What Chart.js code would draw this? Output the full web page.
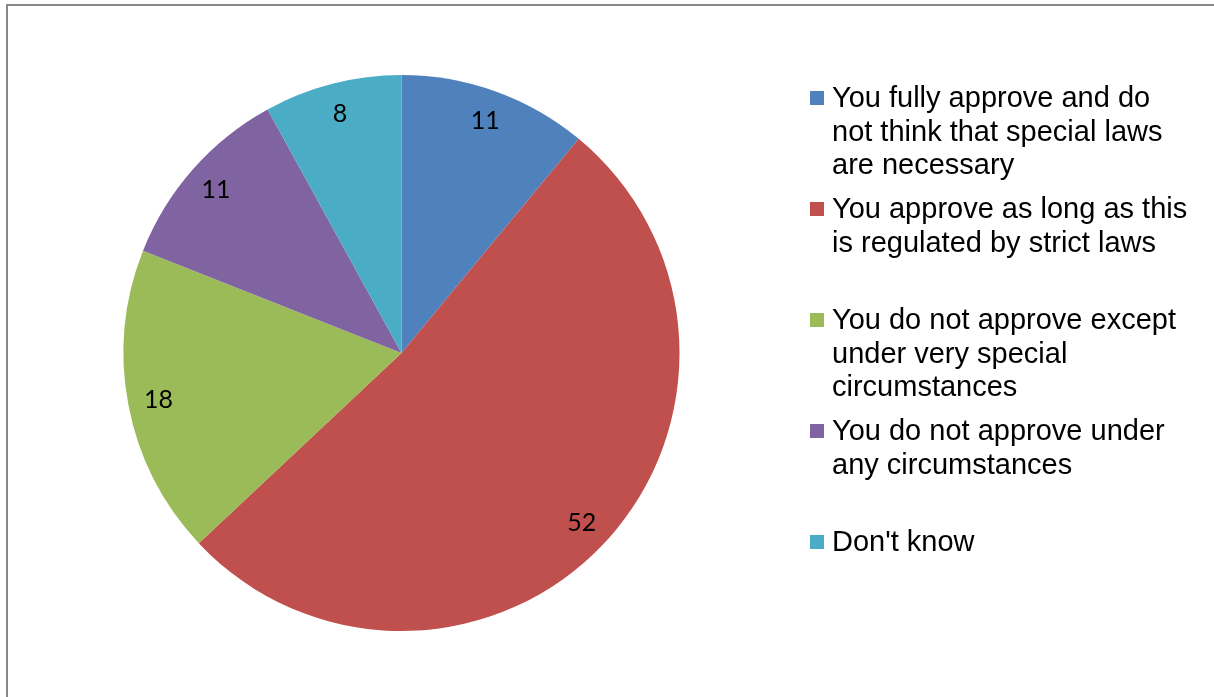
<!DOCTYPE html>
<html>
<head>
<meta charset="utf-8">
<script src="https://cdn.jsdelivr.net/npm/chart.js@4"></script>
<style>
  body { margin: 0; background: #fff; }
  canvas { display: block; }
</style>
</head>
<body>
<canvas id="myChart" width="1214" height="697"></canvas>
<script>
// answers, clockwise from 12 o'clock
const labels = [
  ["You fully approve and do", "not think that special laws", "are necessary"],
  ["You approve as long as this", "is regulated by strict laws"],
  ["You do not approve except", "under very special", "circumstances"],
  ["You do not approve under", "any circumstances"],
  ["Don't know"],
];
const values = [11, 52, 18, 11, 8];
const colors = ["#4F81BD", "#C0504D", "#9BBB59", "#8064A2", "#4BACC6"];

// frame round the chart (top and left edges only, like the screenshot)
const framePlugin = {
  id: "frame",
  beforeDraw(chart) {
    const c = chart.ctx;
    c.save();
    c.strokeStyle = "#878787";
    c.lineWidth = 2;
    c.beginPath();
    c.moveTo(7, chart.height);
    c.lineTo(7, 5);
    c.lineTo(chart.width, 5);
    c.stroke();
    c.restore();
  },
};

// numbers inside the slices
const sliceLabels = {
  id: "sliceLabels",
  afterDatasetsDraw(chart) {
    const c = chart.ctx;
    const meta = chart.getDatasetMeta(0);
    c.save();
    c.font = "25px Lato";
    c.fillStyle = "#000";
    c.textAlign = "center";
    c.textBaseline = "middle";
    meta.data.forEach((arc, i) => {
      const p = arc.getProps(["x", "y", "startAngle", "endAngle", "outerRadius"], true);
      const mid = (p.startAngle + p.endAngle) / 2;
      const r = p.outerRadius * 0.89;
      c.fillText(String(values[i]), p.x + Math.cos(mid) * r, p.y + Math.sin(mid) * r + 1);
    });
    c.restore();
  },
};

// legend on the right, with wrapped lines
const sideLegend = {
  id: "sideLegend",
  afterDraw(chart) {
    const c = chart.ctx;
    const items = chart.data.labels;
    const bg = chart.data.datasets[0].backgroundColor;
    c.save();
    c.font = "29px 'Liberation Sans', Arial, sans-serif";
    c.textBaseline = "alphabetic";
    c.textAlign = "left";
    items.forEach((lines, i) => {
      const base = 107 + i * 111;
      c.fillStyle = bg[i];
      c.fillRect(810, base - 16, 14, 14);
      c.fillStyle = "#000";
      lines.forEach((line, j) => {
        c.fillText(line, 832, base + j * 33.5);
      });
    });
    c.restore();
  },
};

const ctx = document.getElementById("myChart").getContext("2d");
const myChart = new Chart(ctx, {
  type: "pie",
  data: {
    labels: labels,
    datasets: [
      {
        data: values,
        backgroundColor: colors,
        borderWidth: 0,
      },
    ],
  },
  options: {
    responsive: false,
    animation: false,
    layout: {
      padding: { left: 123, right: 534, top: 75, bottom: 66 },
    },
    plugins: {
      legend: { display: false },
      tooltip: { enabled: false },
    },
  },
  plugins: [framePlugin, sliceLabels, sideLegend],
});
</script>
</body>
</html>
